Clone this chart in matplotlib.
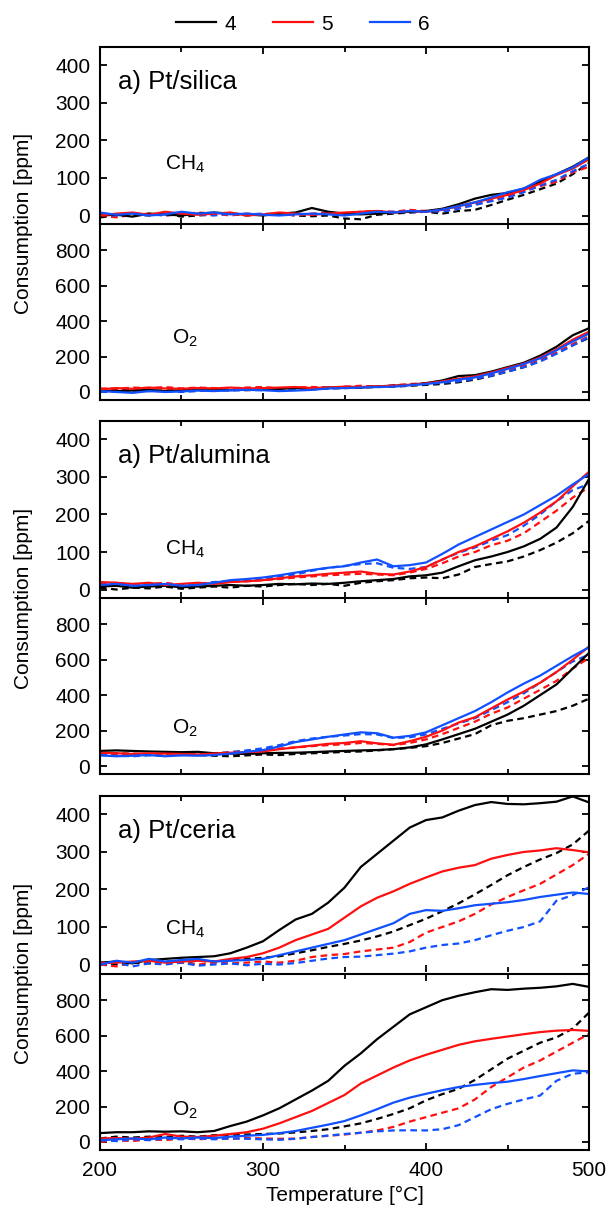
import numpy as np
import matplotlib
matplotlib.use('Agg')
import matplotlib.pyplot as plt
from matplotlib.ticker import MultipleLocator

plt.rcParams['font.family'] = ['Liberation Sans', 'DejaVu Sans']
plt.rcParams['mathtext.fontset'] = 'custom'
plt.rcParams['mathtext.rm'] = 'Liberation Sans'
plt.rcParams['mathtext.it'] = 'Liberation Sans'
plt.rcParams['mathtext.default'] = 'regular'

# temperature grid [degC]
T = list(range(200, 510, 10))

# ---------------- Pt/silica ----------------
silica_ch4_4 = [0, 2, -3, 5, 3, 0, 5, 8, 5, 3, 0, 5, 8, 20, 10, 5, 3, 5, 8, 10, 12, 18, 30, 45, 55, 60, 72, 90, 110, 130, 155]
silica_ch4_5 = [0, 5, 8, 2, 10, 5, 2, 5, 8, 0, 3, 8, 5, 2, 5, 8, 10, 12, 8, 12, 10, 15, 25, 35, 45, 55, 68, 85, 108, 125, 150]
silica_ch4_6 = [8, 2, 5, 0, 3, 10, 5, 8, 3, 5, 2, 0, 3, 5, 3, 0, 5, 10, 8, 12, 10, 16, 25, 35, 48, 62, 72, 95, 110, 128, 155]
silica_ch4_4_dash = [-5, 0, 3, 0, 5, -3, 0, 3, 5, 0, 3, 5, 0, -2, 0, -8, -10, 2, 5, 8, 10, 5, 12, 15, 28, 42, 55, 70, 85, 110, 140]
silica_ch4_5_dash = [0, -5, 2, 5, 0, 3, 8, 5, 0, 5, 2, 5, 0, 5, 8, 5, 10, 12, 10, 15, 12, 15, 20, 30, 40, 50, 65, 78, 90, 115, 130]
silica_ch4_6_dash = [3, 0, 5, 3, 0, 5, 2, 0, 5, 3, 5, 3, 5, 3, 5, 2, 5, 8, 10, 8, 12, 10, 18, 28, 38, 48, 62, 80, 95, 118, 138]

silica_o2_4 = [10, 5, 8, 12, 5, 10, 15, 12, 10, 15, 12, 18, 22, 20, 25, 28, 25, 32, 35, 40, 50, 65, 90, 95, 115, 140, 165, 205, 255, 320, 360]
silica_o2_5 = [15, 22, 18, 25, 20, 18, 22, 20, 25, 20, 22, 25, 28, 22, 25, 30, 28, 32, 35, 40, 48, 60, 75, 88, 110, 135, 160, 195, 240, 295, 340]
silica_o2_6 = [5, 0, -5, 5, 0, 3, 8, 5, 10, 12, 10, 5, 8, 12, 20, 22, 25, 28, 30, 38, 45, 55, 70, 82, 105, 130, 158, 190, 235, 285, 330]
silica_o2_4_dash = [8, 12, 10, 5, 8, 12, 10, 15, 12, 10, 15, 12, 18, 15, 20, 22, 25, 28, 30, 35, 40, 45, 55, 70, 90, 115, 140, 175, 220, 265, 305]
silica_o2_5_dash = [20, 18, 25, 22, 28, 20, 25, 22, 20, 25, 28, 20, 25, 28, 25, 30, 35, 30, 38, 45, 50, 58, 68, 80, 98, 120, 148, 180, 222, 270, 315]
silica_o2_6_dash = [0, 5, 2, 8, 5, 0, 5, 10, 8, 12, 10, 15, 12, 18, 20, 25, 28, 30, 35, 40, 45, 52, 60, 75, 92, 115, 140, 172, 215, 262, 310]

# ---------------- Pt/alumina ----------------
alumina_ch4_4 = [8, 10, 5, 8, 10, 6, 8, 10, 12, 10, 12, 15, 14, 16, 15, 18, 22, 25, 28, 35, 38, 45, 62, 78, 88, 100, 115, 135, 165, 220, 295]
alumina_ch4_5 = [20, 18, 15, 18, 12, 15, 18, 15, 20, 22, 25, 30, 35, 38, 42, 45, 48, 42, 40, 48, 60, 80, 100, 115, 135, 155, 178, 205, 235, 275, 314]
alumina_ch4_6 = [12, 15, 10, 12, 15, 10, 12, 18, 25, 28, 32, 38, 45, 52, 58, 62, 72, 80, 62, 65, 72, 95, 120, 140, 160, 180, 200, 225, 250, 280, 308]
alumina_ch4_4_dash = [5, 0, 5, 3, 8, 2, 5, 8, 5, 10, 8, 12, 15, 12, 15, 10, 18, 22, 25, 30, 32, 30, 40, 60, 68, 75, 88, 105, 125, 150, 183]
alumina_ch4_5_dash = [15, 18, 12, 15, 18, 12, 15, 18, 20, 22, 25, 28, 32, 35, 38, 40, 42, 40, 38, 45, 55, 70, 88, 100, 118, 130, 150, 180, 210, 245, 273]
alumina_ch4_6_dash = [10, 12, 8, 12, 10, 12, 15, 20, 22, 25, 28, 35, 40, 50, 58, 63, 68, 70, 58, 55, 60, 80, 98, 112, 130, 145, 170, 200, 235, 265, 281]

alumina_o2_4 = [85, 88, 85, 82, 80, 78, 80, 72, 70, 68, 72, 74, 75, 78, 82, 85, 88, 90, 95, 105, 122, 150, 180, 210, 250, 290, 340, 400, 460, 550, 638]
alumina_o2_5 = [75, 72, 68, 72, 70, 68, 65, 70, 75, 78, 82, 95, 105, 115, 125, 130, 140, 128, 120, 140, 165, 200, 245, 275, 325, 375, 420, 470, 530, 600, 674]
alumina_o2_6 = [60, 55, 58, 62, 55, 60, 58, 62, 70, 80, 90, 110, 135, 150, 165, 178, 190, 185, 160, 170, 190, 230, 270, 310, 360, 415, 465, 510, 565, 620, 670]
alumina_o2_4_dash = [70, 72, 68, 65, 70, 68, 62, 58, 55, 60, 65, 62, 68, 72, 75, 80, 82, 88, 95, 102, 112, 130, 155, 180, 230, 255, 270, 290, 310, 340, 380]
alumina_o2_5_dash = [65, 68, 70, 65, 68, 72, 70, 72, 78, 85, 90, 98, 105, 112, 118, 122, 130, 125, 118, 130, 150, 180, 215, 250, 295, 330, 380, 430, 480, 550, 610]
alumina_o2_6_dash = [62, 58, 55, 60, 58, 62, 65, 70, 78, 88, 100, 118, 140, 155, 165, 172, 180, 178, 158, 162, 178, 210, 240, 270, 315, 360, 410, 470, 530, 590, 628]

# ---------------- Pt/ceria ----------------
ceria_ch4_4 = [5, 8, 3, 12, 15, 18, 20, 22, 30, 45, 62, 92, 120, 135, 165, 205, 260, 295, 330, 365, 385, 392, 410, 425, 433, 428, 427, 430, 434, 448, 432]
ceria_ch4_5 = [3, 5, 8, 10, 5, 8, 10, 8, 15, 20, 30, 45, 65, 80, 95, 125, 155, 178, 195, 215, 232, 248, 258, 265, 282, 292, 300, 304, 310, 305, 299]
ceria_ch4_6 = [0, 10, 5, 15, 8, 12, 15, 8, 10, 12, 15, 25, 35, 45, 55, 65, 80, 95, 110, 135, 145, 143, 150, 158, 162, 166, 172, 180, 186, 192, 188]
ceria_ch4_4_dash = [5, 0, 5, 3, 8, 5, 10, 8, 12, 15, 18, 22, 30, 38, 47, 55, 64, 75, 88, 105, 122, 142, 163, 187, 212, 238, 260, 280, 297, 320, 357]
ceria_ch4_5_dash = [0, -5, 5, 8, 3, 5, 0, 5, 3, 5, 8, 5, 10, 20, 25, 28, 35, 40, 45, 60, 85, 100, 115, 135, 160, 180, 198, 215, 240, 265, 295]
ceria_ch4_6_dash = [0, 5, -5, 3, 0, 5, -3, 0, 3, -2, 2, 0, 4, 10, 16, 20, 21, 25, 29, 35, 45, 52, 56, 65, 78, 90, 100, 115, 170, 185, 206]

ceria_o2_4 = [50, 55, 55, 60, 58, 60, 55, 62, 90, 115, 150, 190, 240, 290, 345, 430, 500, 580, 650, 720, 760, 800, 825, 845, 862, 858, 865, 870, 878, 892, 875]
ceria_o2_5 = [20, 22, 18, 25, 45, 30, 28, 35, 45, 55, 75, 105, 140, 175, 220, 265, 330, 375, 420, 460, 492, 520, 548, 568, 582, 595, 608, 620, 628, 632, 627]
ceria_o2_6 = [10, 15, 20, 15, 25, 20, 25, 22, 30, 35, 40, 50, 62, 80, 98, 118, 150, 185, 222, 250, 272, 292, 310, 322, 332, 340, 355, 372, 388, 404, 398]
ceria_o2_4_dash = [20, 30, 25, 30, 28, 35, 30, 38, 40, 42, 45, 48, 54, 62, 72, 88, 105, 130, 158, 190, 235, 270, 300, 350, 410, 470, 515, 560, 590, 640, 730]
ceria_o2_5_dash = [0, 10, 5, 15, 10, 20, 15, 20, 18, 22, 20, 18, 19, 28, 35, 42, 52, 65, 85, 115, 140, 165, 190, 240, 310, 365, 420, 460, 510, 560, 609]
ceria_o2_6_dash = [10, 5, 15, 10, 20, 15, 20, 15, 20, 18, 15, 12, 18, 28, 36, 45, 52, 60, 65, 66, 65, 72, 95, 140, 185, 215, 240, 262, 345, 385, 393]

labels = ['4', '5', '6']
colors = ['black', '#ff1010', '#1050ff']
catalysts = ['a) Pt/silica', 'a) Pt/alumina', 'a) Pt/ceria']

panels = [
    ([silica_ch4_4, silica_ch4_5, silica_ch4_6], [silica_ch4_4_dash, silica_ch4_5_dash, silica_ch4_6_dash],
     [silica_o2_4, silica_o2_5, silica_o2_6], [silica_o2_4_dash, silica_o2_5_dash, silica_o2_6_dash]),
    ([alumina_ch4_4, alumina_ch4_5, alumina_ch4_6], [alumina_ch4_4_dash, alumina_ch4_5_dash, alumina_ch4_6_dash],
     [alumina_o2_4, alumina_o2_5, alumina_o2_6], [alumina_o2_4_dash, alumina_o2_5_dash, alumina_o2_6_dash]),
    ([ceria_ch4_4, ceria_ch4_5, ceria_ch4_6], [ceria_ch4_4_dash, ceria_ch4_5_dash, ceria_ch4_6_dash],
     [ceria_o2_4, ceria_o2_5, ceria_o2_6], [ceria_o2_4_dash, ceria_o2_5_dash, ceria_o2_6_dash]),
]

# axes boxes (figure fraction): ch4 bottom, o2 bottom
boxes = [(0.816, 0.670), (0.5074, 0.3614), (0.198, 0.0512)]
ch4_txt_y = [0.33, 0.27, 0.24]
o2_txt_y = [0.35, 0.26, 0.225]
ylab_y = [0.8156, 0.5066, 0.197]

fig = plt.figure(figsize=(6.06, 12.12), dpi=100)
L, W, H = 0.165, 0.807, 0.1455
fs = 15


def style(ax, ystep, show_x):
    ax.set_xlim(200, 500)
    ax.xaxis.set_major_locator(MultipleLocator(100))
    ax.xaxis.set_minor_locator(MultipleLocator(50))
    ax.yaxis.set_major_locator(MultipleLocator(ystep))
    ax.tick_params(which='both', direction='in', top=True, right=True, width=1.3, labelsize=fs)
    ax.tick_params(which='major', length=5)
    ax.tick_params(which='minor', length=3.5)
    ax.tick_params(axis='x', labelbottom=show_x, pad=8)
    ax.tick_params(axis='y', pad=7)
    for s in ax.spines.values():
        s.set_linewidth(1.5)


for g, (ch4_s, ch4_d, o2_s, o2_d) in enumerate(panels):
    b1, b2 = boxes[g]
    ax1 = fig.add_axes([L, b1, W, H])
    ax2 = fig.add_axes([L, b2, W, H])
    for i in range(3):
        ax1.plot(T, ch4_d[i], color=colors[i], lw=1.6, dashes=(3, 2))
        ax2.plot(T, o2_d[i], color=colors[i], lw=1.6, dashes=(3, 2))
    for i in range(3):
        ax1.plot(T, ch4_s[i], color=colors[i], lw=1.6, label=labels[i])
        ax2.plot(T, o2_s[i], color=colors[i], lw=1.6)
    ax1.set_ylim(-20, 450)
    ax2.set_ylim(-45, 950)
    style(ax1, 100, False)
    style(ax2, 200, g == 2)
    ax1.spines['bottom'].set_visible(False)
    ax1.text(0.037, 0.80, catalysts[g], transform=ax1.transAxes, fontsize=18.5, va='center')
    ax1.text(0.133, ch4_txt_y[g], r'CH$_4$', transform=ax1.transAxes, fontsize=fs, va='center')
    ax2.text(0.147, o2_txt_y[g], r'O$_2$', transform=ax2.transAxes, fontsize=fs, va='center')
    fig.text(0.038, ylab_y[g], 'Consumption [ppm]', rotation=90, fontsize=fs, ha='center', va='center')
    if g == 0:
        handles, labs = ax1.get_legend_handles_labels()
    if g == 2:
        ax2.set_xlabel('Temperature [°C]', fontsize=fs, labelpad=4)

fig.legend(handles, labs, loc='center', bbox_to_anchor=(0.5, 0.98), ncol=3, frameon=False,
           fontsize=fs, handlelength=1.9, handletextpad=0.4, columnspacing=1.8)

plt.savefig('out.png', dpi=100)
